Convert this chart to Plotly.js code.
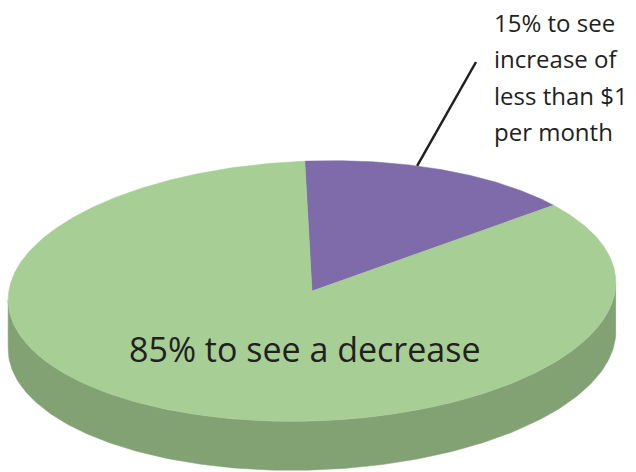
<!DOCTYPE html>
<html><head><meta charset="utf-8">
<script src="https://cdn.plot.ly/plotly-3.0.1.min.js"></script>
<style>html,body{margin:0;padding:0;background:#fff;overflow:hidden}#chart{width:636px;height:472px;}</style>
</head><body><div id="chart"></div>
<script>
// Data (clockwise from the top of the pie)
const sliceNames = ["Increase of less than $1 per month", "Decrease"];
const values = [15, 85];
const bigLabel = "85% to see a decrease";
const smallLabelLines = ["15% to see", "increase of", "less than $1", "per month"];
const topColors = ["#7f6aaa", "#a6ce95"];
const sideColors = ["#5f4f86", "#82a274"];

// Geometry (styling / layout)
const cx = 312, cy = 291, rx = 304, ry = 130, depth = 49;
const tilt = 2 * Math.PI / 180;   // right side slightly higher
const startDeg = -0.5;

function pt(deg, dy) {
  const r = deg * Math.PI / 180;
  const X = rx * Math.sin(r), Y = -ry * Math.cos(r);
  return [cx + X * Math.cos(tilt) + Y * Math.sin(tilt),
          cy - X * Math.sin(tilt) + Y * Math.cos(tilt) + (dy || 0)];
}
// where the side outline is tangent to vertical
const sideStart = 180 - Math.atan2(rx * Math.cos(tilt), ry * Math.sin(tilt)) * 180 / Math.PI + 0;
const visFrom = 90 + (90 - Math.atan2(rx * Math.cos(tilt), ry * Math.sin(tilt)) * 180 / Math.PI);
const visTo = visFrom + 180;

const total = values.reduce((a, b) => a + b, 0);
const sides = [], tops = [];
let a0 = startDeg;
values.forEach((v, i) => {
  const a1 = a0 + v / total * 360;
  const s0 = Math.max(a0, visFrom), s1 = Math.min(a1, visTo);
  if (s1 > s0) {
    const xs = [], ys = [];
    for (let d = s0; d < s1; d += 1) { const p = pt(d); xs.push(p[0]); ys.push(p[1]); }
    let p = pt(s1); xs.push(p[0]); ys.push(p[1]);
    for (let d = s1; d > s0; d -= 1) { const q = pt(d, depth); xs.push(q[0]); ys.push(q[1]); }
    p = pt(s0, depth); xs.push(p[0]); ys.push(p[1]);
    sides.push({x: xs, y: ys, type: 'scatter', mode: 'lines', fill: 'toself',
      fillcolor: sideColors[i], line: {width: 0.5, color: sideColors[i]}, hoverinfo: 'skip', showlegend: false, name: sliceNames[i]});
  }
  const xs = [cx], ys = [cy];
  for (let d = a0; d < a1; d += 0.5) { const p = pt(d); xs.push(p[0]); ys.push(p[1]); }
  const pe = pt(a1); xs.push(pe[0]); ys.push(pe[1]);
  xs.push(cx); ys.push(cy);
  tops.push({x: xs, y: ys, type: 'scatter', mode: 'lines', fill: 'toself',
    fillcolor: topColors[i], line: {width: 0.5, color: topColors[i]}, hoverinfo: 'text', text: sliceNames[i], showlegend: false, name: sliceNames[i]});
  a0 = a1;
});
const traces = [...sides, ...tops];

// leader line from the purple slice's outer edge to the label
const lp = pt(startDeg + values[0] / total * 360 * 0.4);
const shapes = [{type: 'line', xref: 'x', yref: 'y', x0: lp[0], y0: lp[1], x1: 476, y1: 62,
  line: {color: '#231f20', width: 2.5}}];

const font = "'Open Sans', 'Noto Sans', sans-serif";
const annotations = [{x: 305, y: 349, xref: 'x', yref: 'y', text: bigLabel, showarrow: false,
  font: {family: font, size: 34, color: '#231f20'}, xanchor: 'center', yanchor: 'middle'}];
smallLabelLines.forEach((t, i) => {
  annotations.push({x: 492, y: 22 + i * 36.5, xref: 'x', yref: 'y', text: t, showarrow: false,
    font: {family: font, size: 24, color: '#231f20'}, xanchor: 'left', yanchor: 'middle'});
});

const layout = {
  width: 636, height: 472, margin: {l: 0, r: 0, t: 0, b: 0},
  paper_bgcolor: '#fff', plot_bgcolor: '#fff',
  xaxis: {range: [0, 636], visible: false, fixedrange: true},
  yaxis: {range: [472, 0], visible: false, fixedrange: true},
  shapes: shapes, annotations: annotations, showlegend: false
};
Plotly.newPlot('chart', traces, layout, {displayModeBar: false, staticPlot: true});
</script></body></html>
